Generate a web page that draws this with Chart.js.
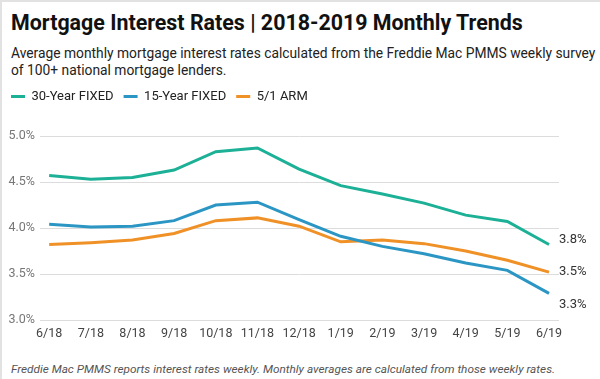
<!DOCTYPE html>
<html>
<head>
<meta charset="utf-8">
<script src="https://cdn.jsdelivr.net/npm/chart.js@4"></script>
<style>
  html, body { margin: 0; padding: 0; background: #fff; }
  body { width: 600px; height: 379px; position: relative; overflow: hidden; font-family: Roboto, "Noto Sans", sans-serif; }
  #frame { position: absolute; left: 0; top: 0; width: 598px; height: 377px; border-top: 2px solid #e2e2e2; border-left: 2px solid #e2e2e2; }
  #title { position: absolute; left: 11px; top: 10px; font-size: 21.4px; font-weight: 700; color: #111; white-space: nowrap; }
  #subtitle { position: absolute; left: 11px; top: 45px; font-size: 13.8px; line-height: 17px; color: #222; width: 588px; }
  #footer { position: absolute; left: 11px; top: 362px; font-size: 11.8px; font-style: italic; color: #555; white-space: nowrap; }
  #wrap { position: absolute; left: 0; top: 80px; width: 600px; height: 267px; }
</style>
</head>
<body>
<div id="frame"></div>
<div id="title">Mortgage Interest Rates | 2018-2019 Monthly Trends</div>
<div id="subtitle">Average monthly mortgage interest rates calculated from the Freddie Mac PMMS weekly survey of 100+ national mortgage lenders.</div>
<div id="wrap"><canvas id="c"></canvas></div>
<div id="footer">Freddie Mac PMMS reports interest rates weekly. Monthly averages are calculated from those weekly rates.</div>
<script>
const months = ['6/18','7/18','8/18','9/18','10/18','11/18','12/18','1/19','2/19','3/19','4/19','5/19','6/19'];
const seriesNames = ['30-Year FIXED','15-Year FIXED','5/1 ARM'];
const fixed30 = [4.57, 4.53, 4.55, 4.63, 4.83, 4.87, 4.64, 4.46, 4.37, 4.27, 4.14, 4.07, 3.82];
const fixed15 = [4.04, 4.01, 4.02, 4.08, 4.25, 4.28, 4.09, 3.91, 3.80, 3.72, 3.62, 3.54, 3.29];
const arm51   = [3.82, 3.84, 3.87, 3.94, 4.08, 4.11, 4.02, 3.85, 3.87, 3.83, 3.75, 3.65, 3.52];
const yTicks  = [3.0, 3.5, 4.0, 4.5, 5.0];
const colors  = ['#1cb096', '#2b96c4', '#ef9126'];

const seriesValues = [fixed30, fixed15, arm51];
const datasets = seriesValues.map((vals, i) => ({
  label: seriesNames[i],
  data: vals.map((v, j) => ({ x: j, y: v })),
  borderColor: colors[i],
  backgroundColor: colors[i],
  borderWidth: 3,
  pointRadius: 0,
  pointHoverRadius: 0,
  tension: 0,
  fill: false
}));

const endLabels = {
  id: 'endLabels',
  afterDatasetsDraw(chart) {
    const ctx = chart.ctx;
    const items = chart.data.datasets.map((ds, i) => {
      const meta = chart.getDatasetMeta(i);
      const el = meta.data[meta.data.length - 1];
      const v = ds.data[ds.data.length - 1].y;
      return { x: el.x, y: el.y, text: v.toFixed(1) + '%' };
    }).sort((a, b) => a.y - b.y);
    const gap = 33;
    const mean = items.reduce((s, it) => s + it.y, 0) / items.length;
    const start = mean - gap * (items.length - 1) / 2;
    ctx.save();
    ctx.font = '13px Roboto, "Noto Sans", sans-serif';
    ctx.fillStyle = '#333';
    ctx.textAlign = 'left';
    ctx.textBaseline = 'middle';
    items.forEach((it, k) => {
      const y = Math.max(it.y - 5, Math.min(it.y + 12, start + k * gap + 2));
      ctx.fillText(it.text, it.x + 10, y);
    });
    ctx.restore();
  }
};

const legendSpace = {
  id: 'legendSpace',
  afterInit(chart) {
    const lg = chart.legend;
    if (lg && !lg._wrapped) {
      const orig = lg.fit;
      lg.fit = function () { orig.call(this); this.height += 23; };
      lg._wrapped = true;
    }
  }
};

new Chart(document.getElementById('c'), {
  type: 'line',
  data: { datasets },
  plugins: [endLabels, legendSpace],
  options: {
    responsive: true,
    maintainAspectRatio: false,
    animation: false,
    layout: { padding: { left: 1, right: 41, top: 0, bottom: 0 } },
    plugins: {
      tooltip: { enabled: false },
      legend: {
        display: true,
        position: 'top',
        align: 'start',
        labels: {
          boxWidth: 14,
          boxHeight: 3,
          padding: 10,
          color: '#222',
          font: { family: 'Roboto', size: 13 },
          generateLabels(chart) {
            return chart.data.datasets.map((ds, i) => ({
              text: ds.label,
              fillStyle: ds.borderColor,
              strokeStyle: ds.borderColor,
              lineWidth: 0,
              hidden: false,
              datasetIndex: i,
              fontColor: '#222'
            }));
          }
        }
      }
    },
    scales: {
      x: {
        type: 'linear',
        min: -0.22,
        max: months.length - 1 + 0.24,
        grid: { display: false, drawTicks: false },
        border: { display: false },
        ticks: {
          stepSize: 1,
          includeBounds: false,
          autoSkip: false,
          maxRotation: 0,
          padding: 6,
          color: '#444',
          font: { family: 'Roboto', size: 12.5 },
          callback: (v) => Number.isInteger(v) && months[v] !== undefined ? months[v] : ''
        }
      },
      y: {
        min: yTicks[0],
        max: yTicks[yTicks.length - 1],
        afterBuildTicks(scale) { scale.ticks = yTicks.map(v => ({ value: v })); },
        afterFit(scale) { scale.width = 39; },
        grid: { color: '#dcdcdc', lineWidth: 1, drawTicks: false },
        border: { display: false },
        ticks: {
          padding: 5,
          color: '#777',
          font: { family: 'Roboto', size: 12.5 },
          callback: (v) => Number(v).toFixed(1) + '%'
        }
      }
    }
  }
});
</script>
</body>
</html>
